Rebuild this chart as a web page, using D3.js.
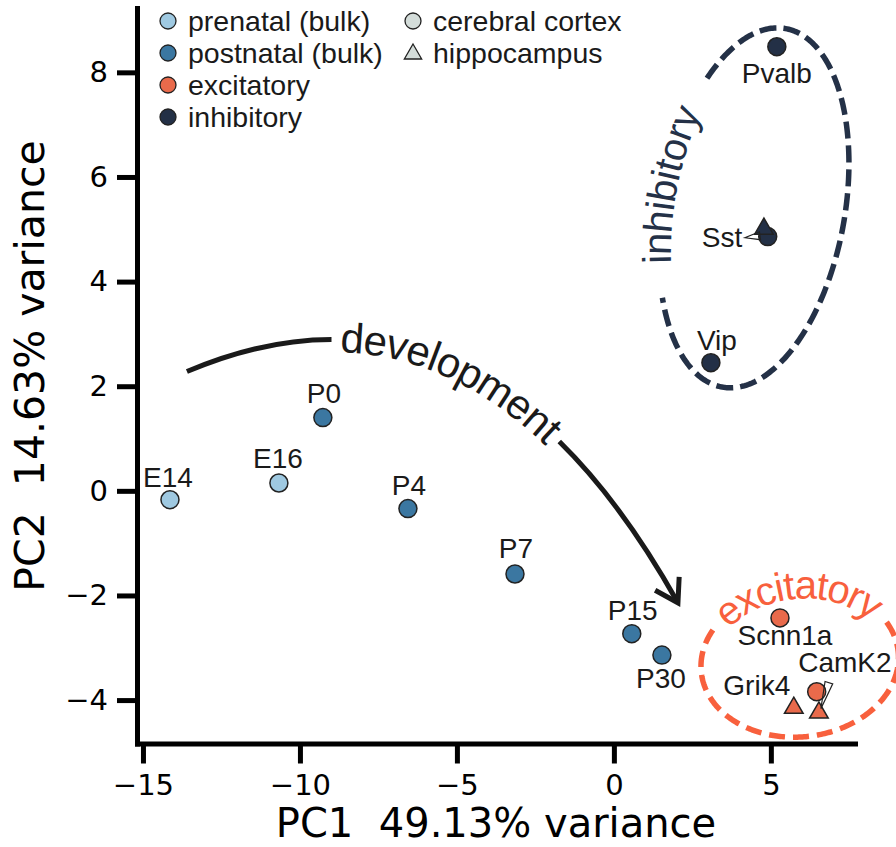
<!DOCTYPE html>
<html>
<head>
<meta charset="utf-8">
<script src="https://cdn.jsdelivr.net/npm/d3@7"></script>
<style>
  body { margin: 0; background: #fff; }
  svg { display: block; }
  text { white-space: pre; }
</style>
</head>
<body>
<div id="chart"></div>
<script>
// bulk tissue samples (cortex time course)
var bulkNames = ["E14", "E16", "P0", "P4", "P7", "P15", "P30"];
var bulkStage = ["prenatal", "prenatal", "postnatal", "postnatal", "postnatal", "postnatal", "postnatal"];
var bulkPC1 = [-14.14, -10.67, -9.27, -6.56, -3.15, 0.57, 1.53];
var bulkPC2 = [-0.17, 0.15, 1.40, -0.34, -1.59, -2.73, -3.14];

// sorted cell types
var cellNames = ["Scnn1a", "CamK2", "Pvalb", "Sst", "Vip", "Grik4", "CamK2", "Sst"];
var cellClass = ["excitatory", "excitatory", "inhibitory", "inhibitory", "inhibitory", "excitatory", "excitatory", "inhibitory"];
var cellRegion = ["cortex", "cortex", "cortex", "cortex", "cortex", "hippocampus", "hippocampus", "hippocampus"];
var cellPC1 = [5.29, 6.46, 5.19, 4.90, 3.09, 5.73, 6.53, 4.78];
var cellPC2 = [-2.43, -3.84, 8.49, 4.86, 2.45, -4.15, -4.24, 5.01];

var xTicks = [-15, -10, -5, 0, 5];
var yTicks = [-4, -2, 0, 2, 4, 6, 8];
var legendGroups = ["prenatal (bulk)", "postnatal (bulk)", "excitatory", "inhibitory"];
var legendRegions = ["cerebral cortex", "hippocampus"];

var colors = {
  prenatal: "#9fc9e1",
  postnatal: "#3b77a1",
  excitatory: "#e96a4b",
  inhibitory: "#233046",
  region: "#d4ddda"
};

var width = 896, height = 847;
var x = d3.scaleLinear().domain([-15.19, 7.68]).range([137, 855]);
var y = d3.scaleLinear().domain([-4.83, 9.23]).range([743.5, 8]);

var svg = d3.select("#chart").append("svg")
    .attr("width", width)
    .attr("height", height);

var labelFont = "'Liberation Sans', Arial, Helvetica, sans-serif";
var axisFont = "'DejaVu Sans', sans-serif";

// ---- axes ----
var yAxis = svg.append("g")
    .attr("transform", "translate(" + x.range()[0] + ",0)")
    .call(d3.axisLeft(y).tickValues(yTicks).tickSize(20).tickSizeOuter(0).tickPadding(9));
var xAxis = svg.append("g")
    .attr("transform", "translate(0," + y.range()[0] + ")")
    .call(d3.axisBottom(x).tickValues(xTicks).tickSize(20).tickSizeOuter(0).tickPadding(11));

[xAxis, yAxis].forEach(function(g) {
  g.select(".domain").attr("stroke", "#000").attr("stroke-width", 5).attr("stroke-linecap", "square");
  g.selectAll(".tick line").attr("stroke", "#000").attr("stroke-width", 5);
  g.selectAll(".tick text").attr("fill", "#000").style("font-family", axisFont).style("font-size", "29px");
});

svg.append("text")
    .attr("x", (x.range()[0] + x.range()[1]) / 2)
    .attr("y", 837)
    .attr("text-anchor", "middle")
    .style("font-family", axisFont)
    .style("font-size", "40px")
    .text("PC1  49.13% variance");

svg.append("text")
    .attr("transform", "translate(44,366) rotate(-90)")
    .attr("text-anchor", "middle")
    .style("font-family", axisFont)
    .style("font-size", "41px")
    .text("PC2  14.63% variance");

// ---- ellipses with text along them ----
function ellPoint(e, tDeg) {
  var t = tDeg * Math.PI / 180, r = e.rot * Math.PI / 180;
  var cx = x(e.cx), cy = y(e.cy);
  var px = e.a * Math.cos(t), py = e.b * Math.sin(t);
  return [cx + px * Math.cos(r) - py * Math.sin(r), cy + px * Math.sin(r) + py * Math.cos(r)];
}
function ellArc(e, t0, t1) {
  var pts = [];
  for (var t = t0; t <= t1; t += 1) pts.push(ellPoint(e, t));
  return d3.line()(pts);
}

var ellipses = [
  { name: "inhibitory", cx: 4.46, cy: 5.41, a: 91, b: 182, rot: 10, gap: [145, 221],
    color: "#243147", size: 40, dash: "17,7" },
  { name: "excitatory", cx: 5.92, cy: -3.27, a: 99, b: 75, rot: -6, gap: [213, 336],
    color: "#f8603d", size: 40, dash: "16,8" }
];

ellipses.forEach(function(e, i) {
  svg.append("path")
      .attr("d", ellArc(e, e.gap[1], e.gap[0] + 360))
      .attr("fill", "none")
      .attr("stroke", e.color)
      .attr("stroke-width", 5.5)
      .attr("stroke-dasharray", e.dash);
  svg.append("path")
      .attr("id", "ellText" + i)
      .attr("d", ellArc(e, e.gap[0], e.gap[1]))
      .attr("fill", "none");
  svg.append("text")
      .attr("dy", "0.3em")
      .style("font-family", labelFont)
      .style("font-size", e.size + "px")
      .attr("fill", e.color)
    .append("textPath")
      .attr("href", "#ellText" + i)
      .attr("startOffset", "50%")
      .attr("text-anchor", "middle")
      .text(e.name);
});

// ---- development arrow ----
var devStart = [-13.6, 2.28], devCtrl = [-4.3, 4.65], devEnd = [2.04, -2.14];
var devGapX = -9.0;
var dp = d3.path();
dp.moveTo(x(devStart[0]), y(devStart[1]));
dp.quadraticCurveTo(x(devCtrl[0]), y(devCtrl[1]), x(devEnd[0]), y(devEnd[1]));

var devPath = svg.append("path")
    .attr("id", "devPath")
    .attr("d", dp.toString())
    .attr("fill", "none")
    .attr("stroke", "#1a1a1a")
    .attr("stroke-width", 5);

var devNode = devPath.node();
var total = devNode.getTotalLength();
var L1 = 0;
while (L1 < total && devNode.getPointAtLength(L1).x < x(devGapX)) L1 += 0.5;

var devText = svg.append("text")
    .attr("dy", "0.3em")
    .style("font-family", labelFont)
    .style("font-size", "42px")
    .attr("fill", "#1a1a1a");
devText.append("textPath")
    .attr("href", "#devPath")
    .attr("startOffset", L1 + 9)
    .text("development");
var tLen = devText.node().getComputedTextLength();
devPath.attr("stroke-dasharray", L1 + "," + (tLen + 16) + "," + total);

// arrow head
var tip = [x(devEnd[0]), y(devEnd[1])];
var ang = Math.atan2(tip[1] - y(devCtrl[1]), tip[0] - x(devCtrl[0]));
var headLen = 26, headAng = 32 * Math.PI / 180;
svg.append("path")
    .attr("d", d3.line()([
      [tip[0] - headLen * Math.cos(ang - headAng), tip[1] - headLen * Math.sin(ang - headAng)],
      tip,
      [tip[0] - headLen * Math.cos(ang + headAng), tip[1] - headLen * Math.sin(ang + headAng)]
    ]))
    .attr("fill", "none")
    .attr("stroke", "#1a1a1a")
    .attr("stroke-width", 5)
    .attr("stroke-linejoin", "miter");

// ---- data ----
var bulk = bulkNames.map(function(n, i) {
  return { name: n, stage: bulkStage[i], pc1: bulkPC1[i], pc2: bulkPC2[i] };
});
var cells = cellNames.map(function(n, i) {
  return { name: n, cls: cellClass[i], region: cellRegion[i], pc1: cellPC1[i], pc2: cellPC2[i] };
});

// label offsets in pixels (text anchor point relative to marker)
var bulkLabelOffset = {
  E14: [-2, -13], E16: [-1, -15], P0: [1, -15], P4: [1, -14],
  P7: [1, -16], P15: [1, -14], P30: [-1, 33]
};
var cellLabelOffset = {
  "Scnn1a|cortex": [5, 27],
  "Pvalb|cortex": [0, 36],
  "Vip|cortex": [6, -13],
  "Grik4|hippocampus": [-37, -13],
  "CamK2|hippocampus": [26, -41],
  "Sst|hippocampus": [-42, 18]
};
// thin wedge connectors: label end point (from label anchor) and marker end point (from marker)
var wedges = [
  { key: "CamK2|hippocampus", atLabel: [-16, 11], atMarker: [2, -4], baseAtLabel: true },
  { key: "Sst|hippocampus", atLabel: [23, -9], atMarker: [-4, 7], baseAtLabel: false }
];

svg.append("g").selectAll("circle")
    .data(bulk)
    .enter().append("circle")
    .attr("cx", function(d) { return x(d.pc1); })
    .attr("cy", function(d) { return y(d.pc2); })
    .attr("r", 9)
    .attr("fill", function(d) { return colors[d.stage]; })
    .attr("stroke", "#222")
    .attr("stroke-width", 1.5);

svg.append("g").selectAll("circle")
    .data(cells.filter(function(d) { return d.region === "cortex"; }))
    .enter().append("circle")
    .attr("cx", function(d) { return x(d.pc1); })
    .attr("cy", function(d) { return y(d.pc2); })
    .attr("r", 9)
    .attr("fill", function(d) { return colors[d.cls]; })
    .attr("stroke", "#222")
    .attr("stroke-width", 1.5);

var tri = d3.symbol().type(d3.symbolTriangle).size(150);
svg.append("g").selectAll("path")
    .data(cells.filter(function(d) { return d.region === "hippocampus"; }))
    .enter().append("path")
    .attr("d", tri)
    .attr("transform", function(d) { return "translate(" + x(d.pc1) + "," + y(d.pc2) + ")"; })
    .attr("fill", function(d) { return colors[d.cls]; })
    .attr("stroke", "#222")
    .attr("stroke-width", 1.5);

wedges.forEach(function(w) {
  var c = cells.filter(function(d) { return d.name + "|" + d.region === w.key; })[0];
  var off = cellLabelOffset[w.key];
  var px = x(c.pc1) + w.atMarker[0], py = y(c.pc2) + w.atMarker[1];
  var lx = x(c.pc1) + off[0] + w.atLabel[0], ly = y(c.pc2) + off[1] + w.atLabel[1];
  var dx = px - lx, dy = py - ly, len = Math.sqrt(dx * dx + dy * dy);
  var nx = -dy / len * 4, ny = dx / len * 4;
  var pts = w.baseAtLabel
    ? [[lx + nx, ly + ny], [lx - nx, ly - ny], [px, py]]
    : [[lx, ly], [px + nx, py + ny], [px - nx, py - ny]];
  svg.append("path")
      .attr("d", d3.line()(pts) + "Z")
      .attr("fill", "none")
      .attr("stroke", "#222")
      .attr("stroke-width", 1.2);
});

svg.append("g").selectAll("text")
    .data(bulk)
    .enter().append("text")
    .attr("x", function(d) { return x(d.pc1) + bulkLabelOffset[d.name][0]; })
    .attr("y", function(d) { return y(d.pc2) + bulkLabelOffset[d.name][1]; })
    .attr("text-anchor", "middle")
    .style("font-family", labelFont)
    .style("font-size", "28px")
    .attr("fill", "#1a1a1a")
    .text(function(d) { return d.name; });

svg.append("g").selectAll("text")
    .data(cells.filter(function(d) { return cellLabelOffset[d.name + "|" + d.region]; }))
    .enter().append("text")
    .attr("x", function(d) { return x(d.pc1) + cellLabelOffset[d.name + "|" + d.region][0]; })
    .attr("y", function(d) { return y(d.pc2) + cellLabelOffset[d.name + "|" + d.region][1]; })
    .attr("text-anchor", "middle")
    .style("font-family", labelFont)
    .style("font-size", "28px")
    .attr("fill", "#1a1a1a")
    .text(function(d) { return d.name; });

// ---- legend ----
var legRowY = [21, 53, 85, 117];
var legendCol1 = [colors.prenatal, colors.postnatal, colors.excitatory, colors.inhibitory];
var leg = svg.append("g")
    .style("font-family", labelFont)
    .style("font-size", "28.5px");

legendGroups.forEach(function(lbl, i) {
  leg.append("circle").attr("cx", 168).attr("cy", legRowY[i]).attr("r", 8)
      .attr("fill", legendCol1[i]).attr("stroke", "#222").attr("stroke-width", 1.3);
  leg.append("text").attr("x", 188).attr("y", legRowY[i]).attr("dy", "0.35em")
      .attr("fill", "#1a1a1a").text(lbl);
});
legendRegions.forEach(function(lbl, i) {
  if (i === 0) {
    leg.append("circle").attr("cx", 413).attr("cy", legRowY[i]).attr("r", 8)
        .attr("fill", colors.region).attr("stroke", "#222").attr("stroke-width", 1.3);
  } else {
    leg.append("path").attr("d", d3.symbol().type(d3.symbolTriangle).size(130))
        .attr("transform", "translate(413," + (legRowY[i] + 1) + ")")
        .attr("fill", colors.region).attr("stroke", "#222").attr("stroke-width", 1.3);
  }
  leg.append("text").attr("x", 433).attr("y", legRowY[i]).attr("dy", "0.35em")
      .attr("fill", "#1a1a1a").text(lbl);
});
</script>
</body>
</html>
